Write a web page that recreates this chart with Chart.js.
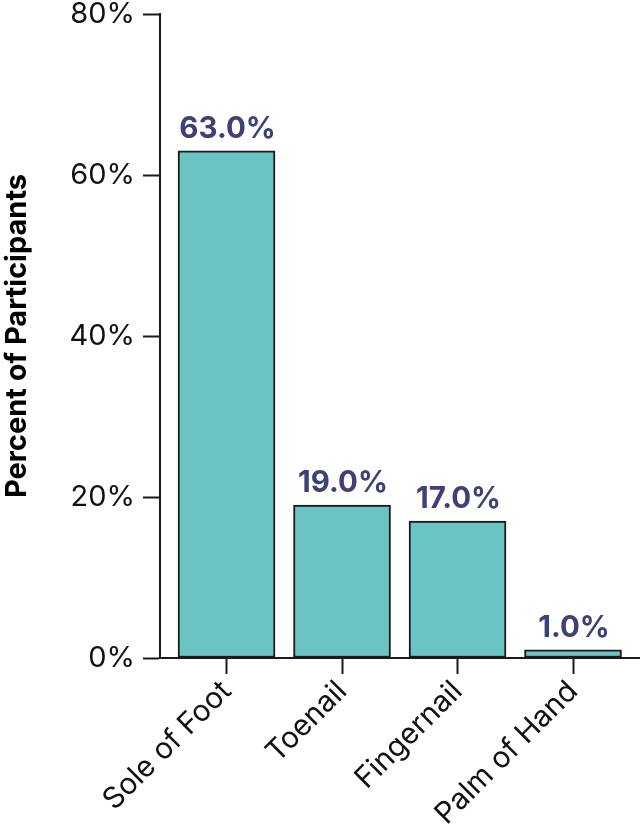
<html lang="en">
<head>
    <meta charset="UTF-8">
    <title>Percent of Participants</title>
    <script src="https://cdn.jsdelivr.net/npm/chart.js"></script>
    <style>
        html, body { margin: 0; padding: 0; background: #fff; }
        #wrap { width: 640px; height: 824px; }
    </style>
</head>
<body>
    <div id="wrap"><canvas id="myChart"></canvas></div>
<script>
    var categories = ['Sole of Foot', 'Toenail', 'Fingernail', 'Palm of Hand'];
    var percents = [63.0, 19.0, 17.0, 1.0];
    var yTicks = [0, 20, 40, 60, 80];

    // bars sit on a linear x scale so the slots can be inset from the y axis
    var points = percents.map(function (v, i) { return { x: i, y: v }; });

    var FONT = 'Inter, "Noto Sans", sans-serif';

    var valueLabels = {
        id: 'valueLabels',
        afterDatasetsDraw: function (chart) {
            var ctx = chart.ctx;
            var meta = chart.getDatasetMeta(0);
            ctx.save();
            ctx.font = 'bold 29.5px ' + FONT;
            ctx.fillStyle = '#3d4176';
            ctx.textAlign = 'center';
            ctx.textBaseline = 'alphabetic';
            meta.data.forEach(function (bar, i) {
                ctx.fillText(percents[i].toFixed(1) + '%', bar.x + 1, bar.y - 13);
            });
            ctx.restore();
        }
    };

    const ctx = document.getElementById('myChart').getContext('2d');
    let myChart = new Chart(ctx, {
        type: 'bar',
        data: {
            datasets: [{
                data: points,
                backgroundColor: '#6cc3c3',
                borderColor: '#1a1a1a',
                borderWidth: 2,
                borderSkipped: false,
                barThickness: 97
            }]
        },
        options: {
            responsive: true,
            maintainAspectRatio: false,
            animation: false,
            layout: { padding: { top: 14, right: 0, left: 0, bottom: 0 } },
            plugins: {
                legend: { display: false },
                tooltip: { enabled: false }
            },
            scales: {
                x: {
                    type: 'linear',
                    offset: false,
                    min: -0.576,
                    max: 3.58,
                    afterBuildTicks: function (s) {
                        s.ticks = categories.map(function (c, i) { return { value: i }; });
                    },
                    afterFit: function (s) {
                        s.height = 166;
                        s.paddingLeft = 0;
                        s.paddingRight = 0;
                    },
                    grid: { offset: false, drawOnChartArea: false, drawTicks: true, tickLength: 16, tickColor: '#1a1a1a', tickWidth: 2 },
                    border: { display: true, color: '#1a1a1a', width: 2 },
                    ticks: {
                        autoSkip: false,
                        minRotation: 45,
                        maxRotation: 45,
                        padding: 0,
                        color: '#111',
                        font: { family: FONT, size: 29.5 },
                        callback: function (v) { return categories[v]; }
                    }
                },
                y: {
                    min: 0,
                    max: 80,
                    afterBuildTicks: function (s) {
                        s.ticks = yTicks.map(function (v) { return { value: v }; });
                    },
                    afterFit: function (s) {
                        s.width = 160;
                        s.paddingTop = 0;
                        s.paddingBottom = 0;
                    },
                    grid: { drawOnChartArea: false, drawTicks: true, tickLength: 17, tickColor: '#1a1a1a', tickWidth: 2 },
                    border: { display: true, color: '#1a1a1a', width: 2 },
                    ticks: {
                        padding: 8,
                        color: '#111',
                        font: { family: FONT, size: 29 },
                        callback: function (v) { return v + '%'; }
                    },
                    title: {
                        display: true,
                        text: 'Percent of Participants',
                        color: '#000',
                        font: { family: FONT, size: 29, weight: 'bold' },
                        padding: 0
                    }
                }
            }
        },
        plugins: [valueLabels]
    });
</script>
</body>
</html>
